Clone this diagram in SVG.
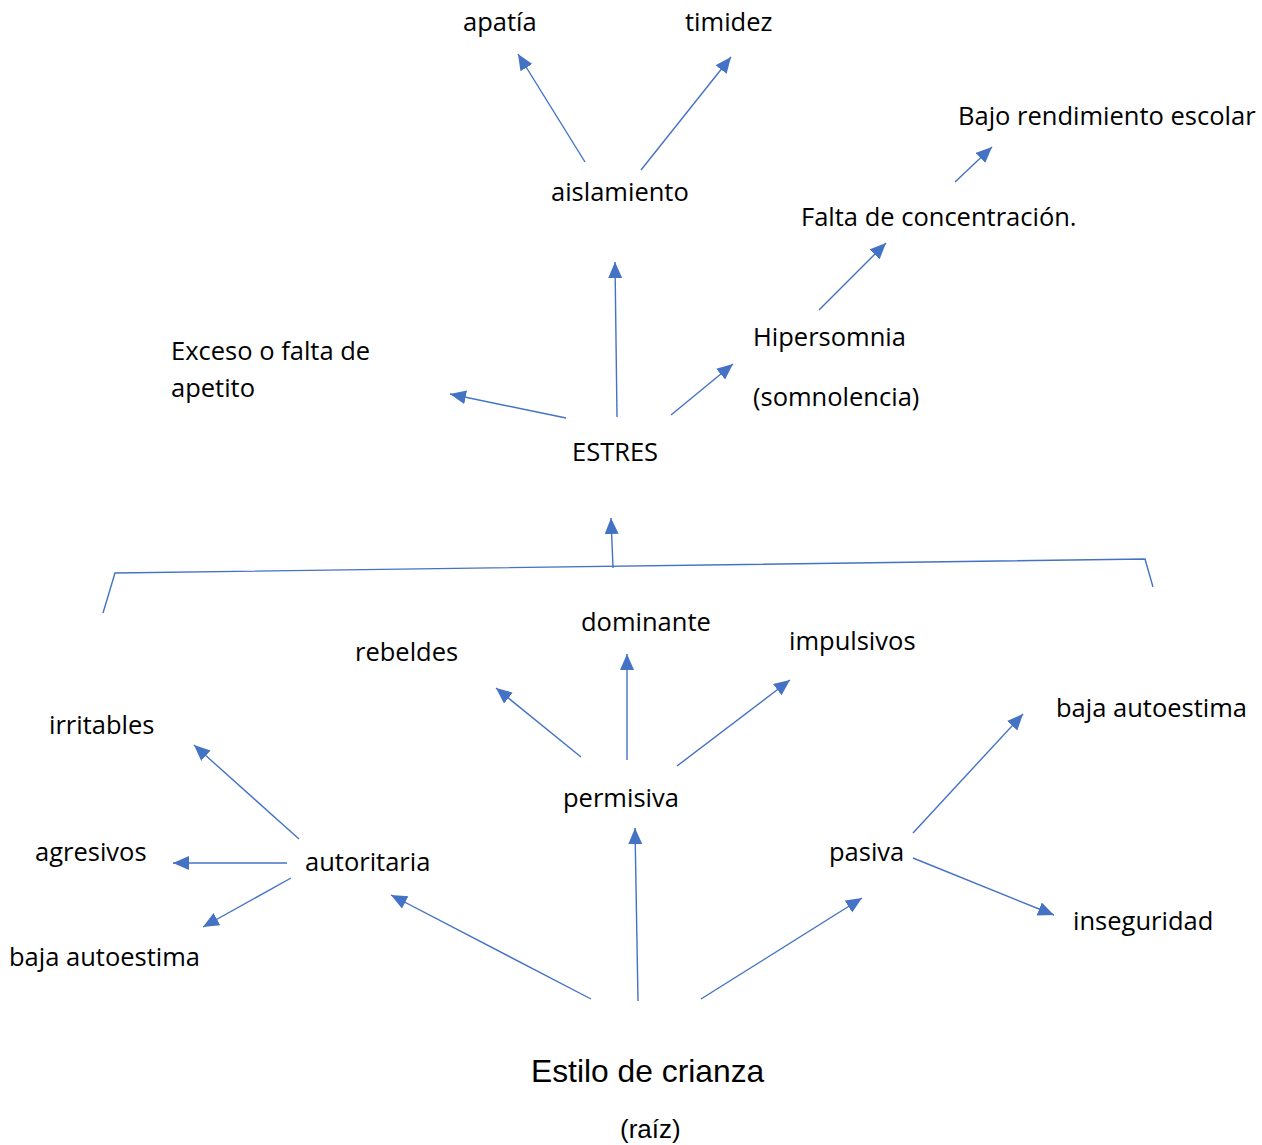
<svg xmlns="http://www.w3.org/2000/svg" width="1262" height="1145" viewBox="0 0 1262 1145">
<defs>
<marker id="ah" markerUnits="userSpaceOnUse" markerWidth="17" markerHeight="15" refX="16" refY="7" orient="auto">
<path d="M0,0 L16,7 L0,14 z" fill="#4472C4"/>
</marker>
<style>
text{font-family:"Open Sans","Liberation Sans",sans-serif;font-size:25.5px;fill:#000}
.root{font-family:"Liberation Sans",Arial,sans-serif;font-size:31.8px}
.raiz{font-family:"Liberation Sans",Arial,sans-serif;font-size:26px}
.c line,.c path{stroke:#4472C4;stroke-width:1.4;fill:none}
.c .a{marker-end:url(#ah)}
</style>
</defs>
<rect width="1262" height="1145" fill="#fff"/>
<g class="c" id="connectors">
<line class="a" x1="585" y1="162" x2="518" y2="54"/>
<line class="a" x1="641" y1="170" x2="731" y2="57"/>
<line class="a" x1="955" y1="182" x2="992" y2="147"/>
<line class="a" x1="819" y1="310" x2="886" y2="243"/>
<line class="a" x1="617" y1="417" x2="615" y2="262"/>
<line class="a" x1="566" y1="418" x2="450" y2="394"/>
<line class="a" x1="671" y1="415" x2="733" y2="364"/>
<line class="a" x1="613" y1="568" x2="611" y2="518"/>
<path d="M103,613 L115,573 L1145,559 L1153,587"/>
<line class="a" x1="581" y1="757" x2="496" y2="688"/>
<line class="a" x1="627" y1="760" x2="627" y2="654"/>
<line class="a" x1="677" y1="766" x2="790" y2="680"/>
<line class="a" x1="299" y1="839" x2="194" y2="745"/>
<line class="a" x1="287" y1="863" x2="173" y2="863"/>
<line class="a" x1="291" y1="878" x2="203" y2="927"/>
<line class="a" x1="591" y1="999" x2="391" y2="895"/>
<line class="a" x1="638" y1="1001" x2="635" y2="828"/>
<line class="a" x1="701" y1="999" x2="862" y2="898"/>
<line class="a" x1="913" y1="833" x2="1023" y2="714"/>
<line class="a" x1="913" y1="858" x2="1054" y2="915"/>
</g>
<g id="apatia"><text x="463" y="31">apatía</text></g>
<g id="timidez"><text x="685" y="31">timidez</text></g>
<g id="aislamiento"><text x="551" y="201">aislamiento</text></g>
<g id="bajo-rendimiento"><text x="958" y="125">Bajo rendimiento escolar</text></g>
<g id="falta-concentracion"><text x="801" y="226">Falta de concentración.</text></g>
<g id="hipersomnia"><text x="753" y="346">Hipersomnia</text><text x="753" y="406">(somnolencia)</text></g>
<g id="apetito"><text x="171" y="360">Exceso o falta de</text><text x="171" y="397">apetito</text></g>
<g id="estres"><text x="572" y="461">ESTRES</text></g>
<g id="dominante"><text x="581" y="631">dominante</text></g>
<g id="rebeldes"><text x="355" y="661">rebeldes</text></g>
<g id="impulsivos"><text x="789" y="650">impulsivos</text></g>
<g id="irritables"><text x="49" y="734">irritables</text></g>
<g id="agresivos"><text x="35" y="861">agresivos</text></g>
<g id="autoritaria"><text x="305" y="871">autoritaria</text></g>
<g id="baja-autoestima-1"><text x="9" y="966">baja autoestima</text></g>
<g id="permisiva"><text x="563" y="807">permisiva</text></g>
<g id="pasiva"><text x="829" y="861">pasiva</text></g>
<g id="baja-autoestima-2"><text x="1056" y="717">baja autoestima</text></g>
<g id="inseguridad"><text x="1073" y="930">inseguridad</text></g>
<g id="estilo-crianza"><text class="root" x="531" y="1082">Estilo de crianza</text><text class="raiz" x="620" y="1138">(raíz)</text></g>
</svg>
